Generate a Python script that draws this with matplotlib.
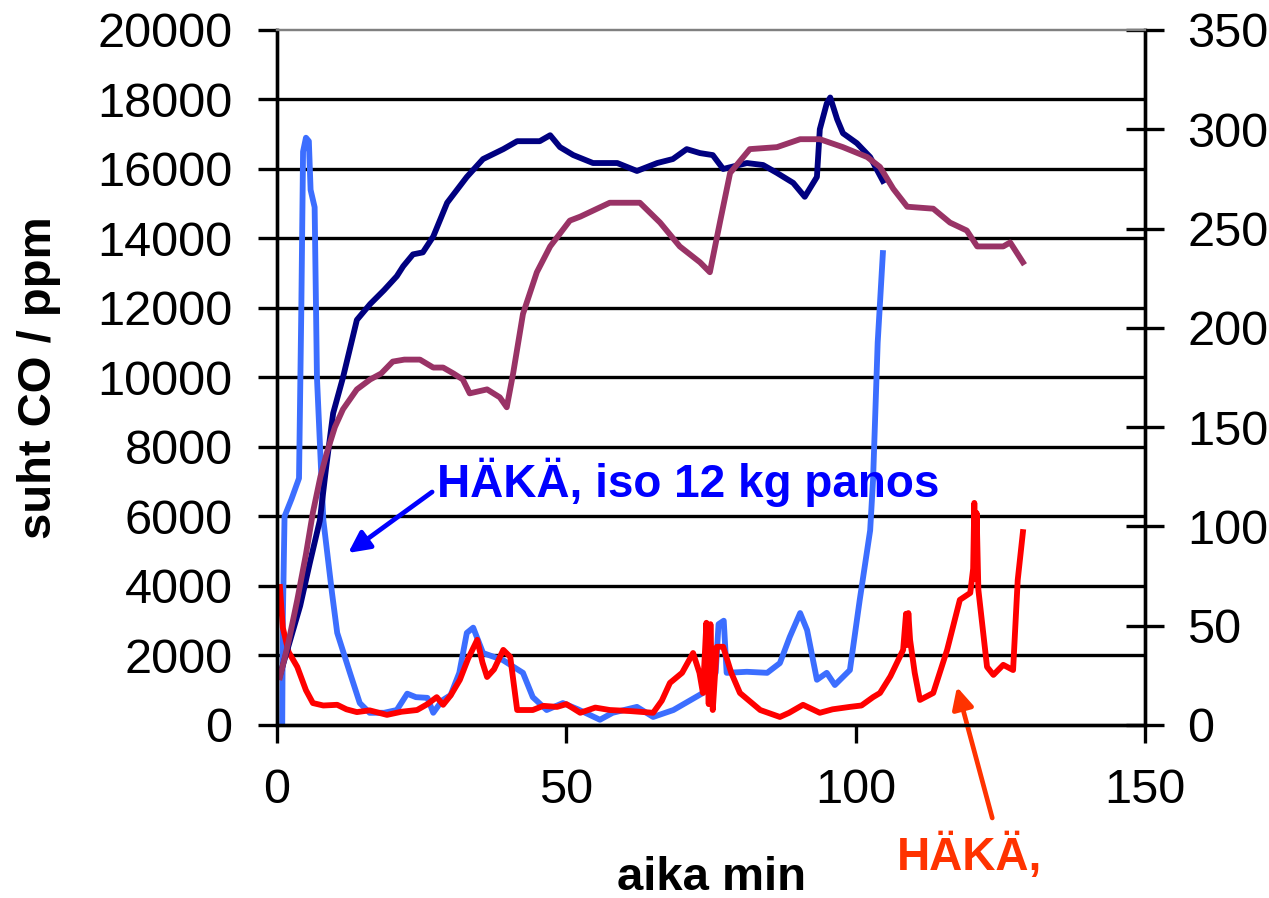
import matplotlib
matplotlib.use("Agg")
import matplotlib.pyplot as plt

plt.rcParams["font.family"] = ["Liberation Sans", "DejaVu Sans"]

# ---------------------------------
# Data
# ---------------------------------
# CO, large 12 kg charge (left axis, ppm)
iso_x = [0.9, 1.0, 1.3, 2.5, 3.8, 4.2, 4.5, 5.0, 5.5, 5.8, 6.5, 6.9, 8.0, 9.5,
         10.4, 12.6, 14.3, 16.0, 18.5, 20.7, 22.5, 24.0, 26.0, 27.0, 28.5, 30.0,
         31.5, 32.8, 33.9, 35.6, 39.0, 42.5, 44.2, 46.6, 49.4, 52.0, 55.8, 58.0,
         62.2, 65.0, 68.5, 73.6, 75.8, 76.3, 77.2, 77.7, 81.2, 84.7, 86.9, 88.6,
         90.4, 91.6, 93.3, 95.0, 96.4, 99.0, 100.7, 102.5, 103.0, 103.8, 104.7]
iso_co = [0, 3000, 6000, 6500, 7100, 12000, 16500, 16900, 16800, 15400, 14900,
          10000, 5900, 3800, 2650, 1500, 630, 350, 350, 430, 900, 800, 780, 350,
          700, 860, 1500, 2650, 2800, 2070, 1870, 1500, 800, 430, 630, 450, 150,
          350, 520, 230, 430, 920, 1500, 2900, 3000, 1500, 1530, 1500, 1780, 2530,
          3220, 2730, 1300, 1500, 1150, 1580, 3600, 5600, 7050, 11000, 13580]

# CO, second run (left axis, ppm)
red_x = [0.5, 1.0, 2.0, 3.5, 5.0, 6.2, 8.0, 10.4, 12.0, 13.8, 16.0, 19.0, 21.5,
         24.2, 26.0, 27.6, 28.7, 30.0, 31.6, 33.0, 34.6, 35.5, 36.3, 37.5, 39.1,
         40.3, 41.5, 44.2, 46.0, 48.4, 50.0, 52.4, 55.0, 57.5, 61.0, 65.0, 66.5,
         67.9, 70.0, 71.9, 73.0, 73.6, 74.2, 74.6, 74.9, 75.3, 76.0, 77.1, 78.5,
         80.0, 83.5, 86.9, 88.5, 90.9, 93.8, 96.0, 99.0, 101.0, 103.0, 104.2,
         106.0, 108.2, 108.7, 108.9, 109.1, 109.4, 110.2, 111.1, 113.4, 115.8,
         118.0, 119.8, 120.3, 120.5, 120.7, 120.9, 121.2, 122.7, 123.8, 125.5,
         127.2, 128.0, 128.9]
red_co = [3970, 2800, 2100, 1670, 1000, 630, 560, 580, 450, 370, 420, 290, 380,
          430, 600, 800, 580, 850, 1300, 1900, 2450, 1800, 1380, 1600, 2160,
          1960, 430, 430, 550, 520, 600, 350, 500, 430, 400, 350, 700, 1210,
          1500, 2070, 1500, 920, 2940, 600, 2900, 430, 2250, 2250, 1500, 920,
          430, 230, 350, 580, 350, 450, 520, 560, 800, 920, 1400, 2160, 3200,
          2300, 3220, 2450, 1500, 720, 920, 2160, 3600, 3800, 4500, 6390, 4200,
          6100, 3890, 1670, 1440, 1730, 1580, 4170, 5550]

# right axis series
navy_x = [0.5, 2.0, 4.0, 5.7, 7.4, 8.5, 9.7, 11.4, 13.8, 16.1, 18.5, 20.7, 21.8,
          23.5, 25.2, 27.0, 29.4, 32.8, 35.6, 39.1, 41.5, 45.4, 47.2, 48.9, 51.2,
          54.6, 58.8, 62.2, 65.7, 68.4, 70.8, 73.1, 75.3, 77.1, 81.2, 84.0, 86.4,
          89.2, 91.2, 93.3, 93.8, 95.0, 95.6, 96.8, 97.8, 100.2, 102.5, 104.7]
navy_y = [25, 40, 60, 82, 103, 130, 157, 175, 204, 212, 219, 226, 231, 237, 238,
          246, 263, 276, 285, 290, 294, 294, 297, 291, 287, 283, 283, 279, 283,
          285, 290, 288, 287, 280, 283, 282, 278, 273, 266, 276, 300, 313, 316,
          305, 298, 293, 286, 274]

purple_x = [0.5, 2.0, 3.5, 5.0, 6.2, 7.5, 8.6, 10.0, 11.4, 13.8, 16.1, 18.0,
            20.0, 22.0, 24.7, 27.0, 28.7, 30.5, 32.1, 33.3, 36.3, 38.5, 39.7,
            40.8, 42.5, 44.9, 47.2, 50.6, 52.4, 57.5, 62.7, 66.2, 69.6, 73.1,
            74.8, 76.6, 78.3, 81.7, 86.4, 90.4, 93.8, 97.8, 102.0, 104.2, 106.5,
            108.9, 113.4, 116.3, 119.2, 121.0, 125.5, 126.7, 128.9]
purple_y = [24, 42, 63, 86, 107, 125, 137, 150, 159, 169, 174, 177, 183, 184,
            184, 180, 180, 177, 174, 167, 169, 165, 160, 177, 207, 228, 241, 254,
            256, 263, 263, 253, 241, 233, 228, 254, 278, 290, 291, 295, 295, 291,
            286, 281, 270, 261, 260, 253, 249, 241, 241, 243, 233]

x_ticks = [0, 50, 100, 150]
left_ticks = list(range(0, 20001, 2000))
right_ticks = list(range(0, 351, 50))

# ---------------------------------
# Figure
# ---------------------------------
fig = plt.figure(figsize=(12.69, 8.98), dpi=100)
ax = fig.add_axes([0.2183, 0.1927, 0.684, 0.7739])
ax2 = ax.twinx()

for v in left_ticks[1:-1]:
    ax.axhline(v, color="black", lw=2.4, zorder=0.5)

ax.plot(iso_x, iso_co, color="#3C6EFF", lw=4.2, solid_joinstyle="round")
ax.plot(red_x, red_co, color="#FF0000", lw=4.2, solid_joinstyle="round")
ax2.plot(navy_x, navy_y, color="#000080", lw=4.2, solid_joinstyle="round")
ax2.plot(purple_x, purple_y, color="#993366", lw=4.2, solid_joinstyle="round")

ax.set_xlim(0, 150)
ax.set_ylim(0, 20000)
ax2.set_ylim(0, 350)
ax.set_xticks(x_ticks)
ax.set_yticks(left_ticks)
ax2.set_yticks(right_ticks)

for a in (ax, ax2):
    for s in a.spines.values():
        s.set_linewidth(2.4)
        s.set_color("black")
    a.spines["top"].set_color("#808080")
    a.spines["top"].set_linewidth(1.6)

ax.tick_params(axis="y", direction="out", length=14, width=2.4,
               labelsize=35, pad=18)
ax.tick_params(axis="x", direction="out", length=13, width=2.4,
               labelsize=35, pad=18)
ax2.tick_params(axis="y", direction="inout", length=27, width=2.4,
                labelsize=35, pad=17)

ax.set_xlabel("aika min", fontsize=34, fontweight="bold", labelpad=31)
ax.set_ylabel("suht CO / ppm", fontsize=34, fontweight="bold", labelpad=26)

# ---------------------------------
# Annotations
# ---------------------------------
ax.annotate("", xy=(12.3, 4950), xytext=(26.8, 6705),
            arrowprops=dict(arrowstyle="-|>", color="#0000FF", lw=3.4,
                            mutation_scale=32, shrinkA=0, shrinkB=0))
ax.text(27.6, 6990, "HÄKÄ, iso 12 kg panos", color="#0000FF", fontsize=33,
        fontweight="bold", ha="left", va="center")

ax.annotate("", xy=(117.5, 1094), xytext=(123.6, -2677),
            arrowprops=dict(arrowstyle="-|>", color="#FF3300", lw=3.4,
                            mutation_scale=32, shrinkA=0, shrinkB=0),
            annotation_clip=False)
ax.text(107.1, -3800, "HÄKÄ,", color="#FF3300", fontsize=33,
        fontweight="bold", ha="left", va="center", clip_on=False)

fig.savefig("out.png", dpi=100, facecolor="white")
